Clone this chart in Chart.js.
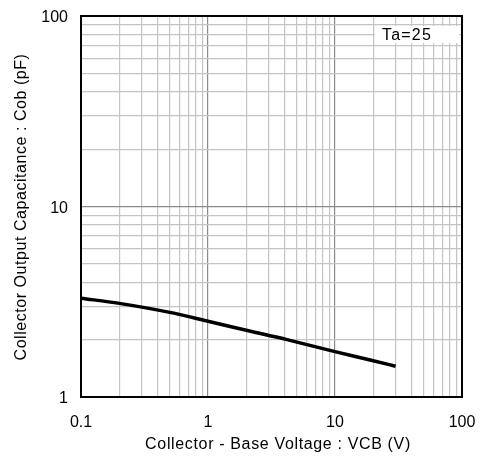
<!DOCTYPE html>
<html>
<head>
<meta charset="utf-8">
<script src="https://cdn.jsdelivr.net/npm/chart.js@4"></script>
<style>
  html, body { margin: 0; padding: 0; background: #fff; }
  #wrap { width: 483px; height: 463px; }
</style>
</head>
<body>
<div id="wrap"><canvas id="c" width="483" height="463"></canvas></div>
<script>
// ---- data ----
const vcb = [0.1, 0.2, 0.5, 1, 2, 4.2, 10, 20, 30];
const cob = [3.3, 3.1, 2.78, 2.5, 2.24, 2.0, 1.73, 1.55, 1.45];
const xTickLabels = [0.1, 1, 10, 100];
const yTickLabels = [1, 10, 100];
const xDecades = [0.1, 1, 10];
const yDecades = [1, 10];
const minorMultipliers = [1, 2, 3, 4, 5, 6, 7, 8, 9];
const xTitle = 'Collector - Base Voltage : VCB (V)';
const yTitle = 'Collector Output Capacitance : Cob (pF)';
const noteText = 'Ta=25';

const FONT = '"Liberation Sans", Arial, sans-serif';

function gridValues(decades, last) {
  const out = [];
  decades.forEach(d => minorMultipliers.forEach(m => out.push(+(d * m).toPrecision(6))));
  out.push(last);
  return out;
}
const xGrid = gridValues(xDecades, 100);
const yGrid = gridValues(yDecades, 100);
const isLabel = (list, v) => list.some(t => Math.abs(t - v) / t < 1e-6);
const zeroPad = s => { s.paddingLeft = 0; s.paddingRight = 0; s.paddingTop = 0; s.paddingBottom = 0; };

const framePlugin = {
  id: 'frame',
  afterDatasetsDraw(chart) {
    const { ctx, chartArea: a } = chart;
    ctx.save();
    // note box
    const bx = a.right - 87, by = a.top + 10, bw = 84, bh = 17;
    ctx.fillStyle = '#fff';
    ctx.fillRect(bx, by, bw, bh);
    ctx.fillStyle = '#000';
    ctx.font = '16px ' + FONT;
    ctx.letterSpacing = '1.2px';
    ctx.textAlign = 'left';
    ctx.textBaseline = 'middle';
    ctx.fillText(noteText, bx + 7, by + bh / 2 + 1);
    // frame
    ctx.strokeStyle = '#000';
    ctx.lineWidth = 2;
    ctx.strokeRect(a.left, a.top, a.right - a.left, a.bottom - a.top);
    ctx.restore();
  },
  afterDraw(chart) {
    const { ctx } = chart;
    ctx.save();
    ctx.fillStyle = '#000';
    ctx.font = '16px ' + FONT;
    ctx.letterSpacing = '0.65px';
    ctx.textAlign = 'center';
    ctx.textBaseline = 'middle';
    ctx.fillText(xTitle, 278, 445);
    ctx.letterSpacing = '0.55px';
    ctx.translate(22, 207);
    ctx.rotate(-Math.PI / 2);
    ctx.fillText(yTitle, 0, 0);
    ctx.restore();
  }
};

new Chart(document.getElementById('c'), {
  type: 'line',
  data: {
    datasets: [{
      data: vcb.map((v, i) => ({ x: v, y: cob[i] })),
      borderColor: '#000',
      borderWidth: 3.5,
      pointRadius: 0,
      cubicInterpolationMode: 'monotone',
      fill: false
    }]
  },
  options: {
    responsive: false,
    animation: false,
    devicePixelRatio: 1,
    layout: { padding: { top: 16, right: 21, left: 0, bottom: 0 } },
    plugins: { legend: { display: false }, tooltip: { enabled: false } },
    scales: {
      x: {
        type: 'logarithmic',
        min: 0.1, max: 100,
        afterBuildTicks: s => { s.ticks = xGrid.map(v => ({ value: v })); },
        afterFit: s => { s.height = 66; zeroPad(s); },
        grid: {
          drawTicks: false,
          color: c => (c.tick && (Math.abs(c.tick.value - 1) < 1e-9 || Math.abs(c.tick.value - 10) < 1e-9)) ? '#8a8a8a' : '#c4c4c4',
          lineWidth: 1.2
        },
        border: { display: false },
        ticks: {
          autoSkip: false, maxRotation: 0, minRotation: 0,
          padding: 16,
          color: '#000',
          font: { family: FONT, size: 16 },
          callback: v => isLabel(xTickLabels, v) ? String(v) : ''
        }
      },
      y: {
        type: 'logarithmic',
        min: 1, max: 100,
        afterBuildTicks: s => { s.ticks = yGrid.map(v => ({ value: v })); },
        afterFit: s => { s.width = 81; zeroPad(s); },
        grid: {
          drawTicks: false,
          color: c => (c.tick && Math.abs(c.tick.value - 10) < 1e-9) ? '#8a8a8a' : '#c4c4c4',
          lineWidth: 1.2
        },
        border: { display: false },
        ticks: {
          autoSkip: false,
          padding: 13,
          labelOffset: 2,
          color: '#000',
          font: { family: FONT, size: 16 },
          callback: v => isLabel(yTickLabels, v) ? String(v) : ''
        }
      }
    }
  },
  plugins: [framePlugin]
});
</script>
</body>
</html>
